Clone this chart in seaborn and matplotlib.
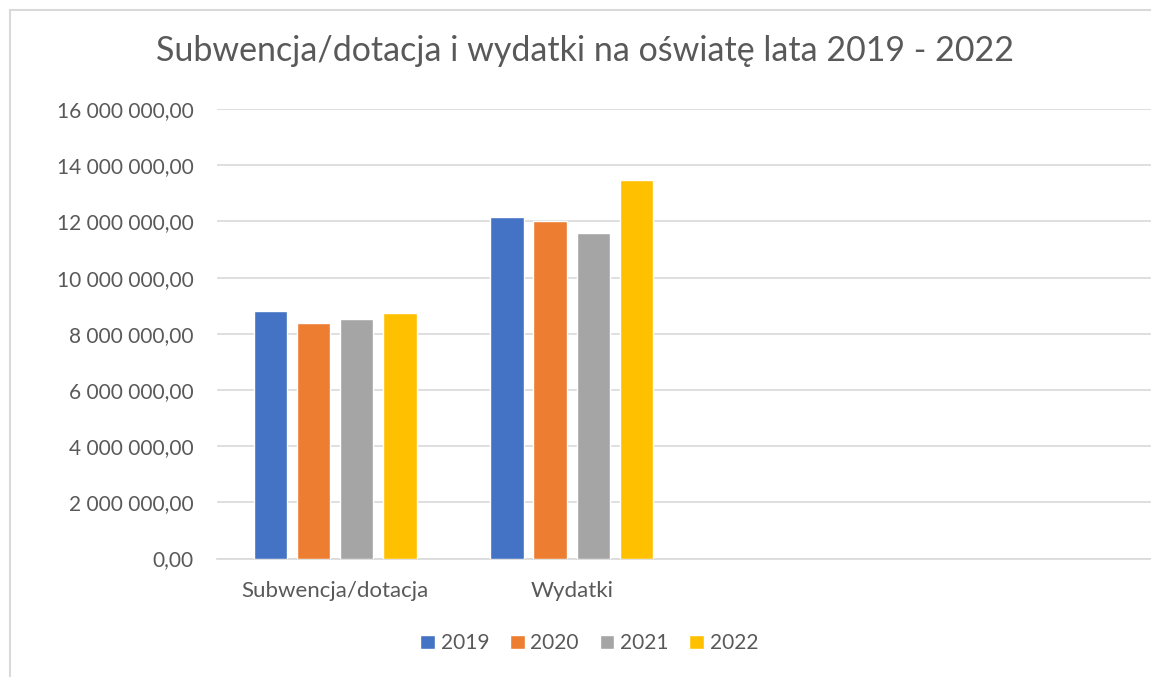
import pandas as pd
import matplotlib.pyplot as plt
import seaborn as sns
from matplotlib.ticker import FuncFormatter, MultipleLocator
from matplotlib.patches import Rectangle

# Dane
kategorie = ['Subwencja/dotacja', 'Wydatki']
lata = ['2019', '2020', '2021', '2022']
subwencja = [8810000, 8370000, 8530000, 8730000]
wydatki = [12170000, 12020000, 11580000, 13480000]
kolory = ['#4472C4', '#ED7D31', '#A5A5A5', '#FFC000']

df = pd.DataFrame({
    'Kategoria': [kategorie[0]] * 4 + [kategorie[1]] * 4,
    'Rok': lata + lata,
    'Kwota': subwencja + wydatki,
})

sns.set_style('white')
plt.rcParams['font.family'] = ['Lato', 'DejaVu Sans']
szary = '#595959'

fig = plt.figure(figsize=(11.51, 6.77), dpi=100)
ax = fig.add_axes([0.1885, 0.1749, 0.8115, 0.664])

sns.barplot(data=df, x='Kategoria', y='Kwota', hue='Rok', order=kategorie,
            hue_order=lata, palette=kolory, width=0.73, gap=0.23,
            saturation=1, ax=ax, zorder=3)

ax.set_xlim(-0.5, 3.45)
ax.set_ylim(0, 16000000)
ax.yaxis.set_major_locator(MultipleLocator(2000000))


def format_pl(v, pos):
    s = f'{v:,.2f}'
    return s.replace(',', ' ').replace('.', ',')


ax.yaxis.set_major_formatter(FuncFormatter(format_pl))
ax.grid(axis='y', color='#d9d9d9', linewidth=1.2, zorder=0)
for s in ['top', 'right', 'left']:
    ax.spines[s].set_visible(False)
ax.spines['bottom'].set_color('#d9d9d9')
ax.spines['bottom'].set_linewidth(1.2)
ax.tick_params(axis='both', length=0, colors=szary)
ax.tick_params(axis='y', pad=17, labelsize=15)
ax.tick_params(axis='x', pad=16, labelsize=16)
ax.set_xlabel('')
ax.set_ylabel('')

fig.text(0.508, 0.925, 'Subwencja/dotacja i wydatki na oświatę lata 2019 - 2022',
         ha='center', va='center', fontsize=24.5, color=szary)

ax.legend(loc='center', bbox_to_anchor=(0.512, 0.05), bbox_transform=fig.transFigure,
          ncol=4, frameon=False, fontsize=15, labelcolor=szary,
          handlelength=0.7, handleheight=0.7, handletextpad=0.28, columnspacing=1.0)

# ramka wykresu
fig.patches.append(Rectangle((10 / 1151, -0.1), 1.2, 1 + 0.1 - 10 / 677,
                             transform=fig.transFigure, fill=False,
                             edgecolor='#d9d9d9', linewidth=1.5))

plt.savefig('out.png', dpi=100)
plt.close()
